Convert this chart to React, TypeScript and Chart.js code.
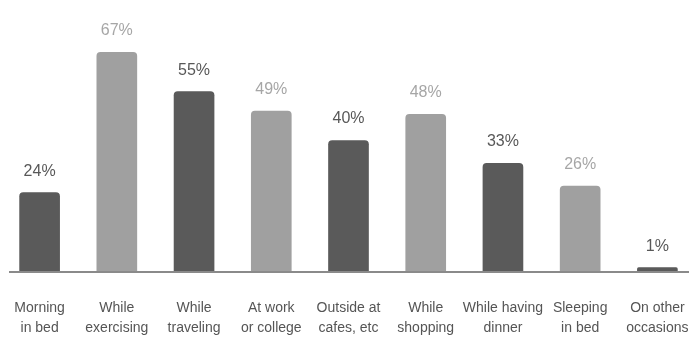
import React, { useEffect, useRef } from "react";
import { Chart, registerables } from "chart.js";

Chart.register(...registerables);

const categories: string[][] = [
  ["Morning", "in bed"],
  ["While", "exercising"],
  ["While", "traveling"],
  ["At work", "or college"],
  ["Outside at", "cafes, etc"],
  ["While", "shopping"],
  ["While having", "dinner"],
  ["Sleeping", "in bed"],
  ["On other", "occasions"],
];
const values: number[] = [24, 67, 55, 49, 40, 48, 33, 26, 1];
const shades: string[] = ["dark", "light", "dark", "light", "dark", "light", "dark", "light", "dark"];

const DARK = "#5a5a5a";
const LIGHT = "#a0a0a0";
const DARK_TEXT = "#585858";
const LIGHT_TEXT = "#a6a6a6";
const FONT = "'Liberation Sans', Arial, sans-serif";

const valueLabels = {
  id: "valueLabels",
  afterDatasetsDraw(chart: any) {
    const ctx = chart.ctx;
    const meta = chart.getDatasetMeta(0);
    ctx.save();
    ctx.font = `16px ${FONT}`;
    ctx.textAlign = "center";
    ctx.textBaseline = "alphabetic";
    meta.data.forEach((bar: any, i: number) => {
      ctx.fillStyle = shades[i] === "dark" ? DARK_TEXT : LIGHT_TEXT;
      ctx.fillText(values[i] + "%", bar.x, bar.y - 17);
    });
    ctx.restore();
  },
};

const baseline = {
  id: "baseline",
  afterDatasetsDraw(chart: any) {
    const ctx = chart.ctx;
    const y = chart.scales.y.getPixelForValue(0);
    ctx.save();
    ctx.strokeStyle = "#8a8a8a";
    ctx.lineWidth = 2;
    ctx.beginPath();
    ctx.moveTo(9, y + 1);
    ctx.lineTo(chart.width, y + 1);
    ctx.stroke();
    ctx.restore();
  },
};

export default function App() {
  const ref = useRef<HTMLCanvasElement | null>(null);
  useEffect(() => {
    document.documentElement.style.overflow = "hidden";
    document.body.style.margin = "0";
    document.body.style.overflow = "hidden";
    const chart = new Chart(ref.current as HTMLCanvasElement, {
      type: "bar",
      data: {
        labels: categories,
        datasets: [
          {
            data: values,
            backgroundColor: shades.map((s) => (s === "dark" ? DARK : LIGHT)),
            borderRadius: 4,
            barThickness: 40,
          },
        ],
      },
      options: {
        animation: false,
        responsive: true,
        maintainAspectRatio: false,
        layout: { padding: { left: 1, right: 0, top: 10, bottom: 5 } },
        plugins: { legend: { display: false }, tooltip: { enabled: false } },
        scales: {
          x: {
            grid: { display: false, drawTicks: true, tickLength: 27 },
            border: { display: false },
            ticks: {
              autoSkip: false,
              maxRotation: 0,
              minRotation: 0,
              padding: 0,
              color: "#555555",
              font: { family: FONT, size: 14, lineHeight: 1.43 },
            },
          },
          y: {
            display: false,
            min: 0,
            max: 80,
          },
        },
      },
      plugins: [valueLabels, baseline],
    });
    return () => chart.destroy();
  }, []);
  return (
    <div style={{ position: "relative", width: "696px", height: "343px" }}>
      <canvas ref={ref} />
    </div>
  );
}
